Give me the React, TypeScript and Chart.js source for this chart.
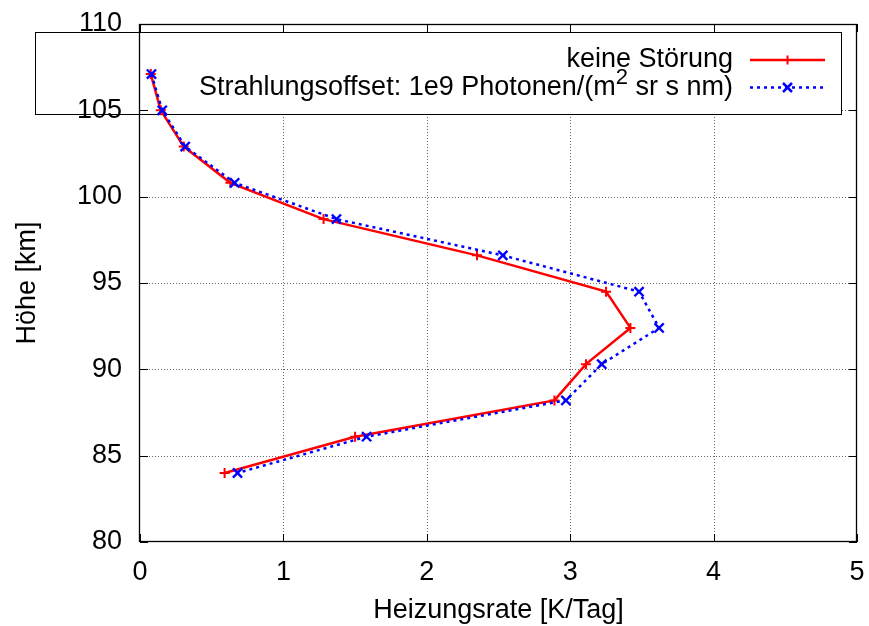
import React, { useEffect, useRef } from "react";
import { Chart, registerables } from "chart.js";

Chart.register(...registerables);

const FONT = '"Liberation Sans", Arial, Helvetica, sans-serif';

// Altitude levels [km]
const heights = [107.1, 105.0, 102.9, 100.8, 98.7, 96.6, 94.5, 92.4, 90.3, 88.2, 86.1, 84.0];
// Heating rate without disturbance [K/Tag]
const rateUndisturbed = [0.075, 0.145, 0.305, 0.63, 1.28, 2.35, 3.25, 3.42, 3.11, 2.89, 1.5, 0.59];
// Heating rate with radiation offset [K/Tag]
const rateOffset = [0.08, 0.155, 0.315, 0.66, 1.37, 2.53, 3.48, 3.62, 3.22, 2.97, 1.58, 0.68];

const xTicks = [0, 1, 2, 3, 4, 5];
const yTicks = [80, 85, 90, 95, 100, 105, 110];

const seriesLabels = ["keine Störung", "Strahlungsoffset: 1e9 Photonen/(m", "2", " sr s nm)"];
const xTitle = "Heizungsrate [K/Tag]";
const yTitle = "Höhe [km]";

const RED = "#ff0000";
const BLUE = "#0000ff";

function drawPlus(ctx: CanvasRenderingContext2D, x: number, y: number, r: number) {
  ctx.beginPath();
  ctx.moveTo(x - r, y);
  ctx.lineTo(x + r, y);
  ctx.moveTo(x, y - r);
  ctx.lineTo(x, y + r);
  ctx.stroke();
}
function drawX(ctx: CanvasRenderingContext2D, x: number, y: number, r: number) {
  ctx.beginPath();
  ctx.moveTo(x - r, y - r);
  ctx.lineTo(x + r, y + r);
  ctx.moveTo(x - r, y + r);
  ctx.lineTo(x + r, y - r);
  ctx.stroke();
}

function zeroPadding(s: any) {
  s.paddingTop = 0;
  s.paddingBottom = 0;
  s.paddingLeft = 0;
  s.paddingRight = 0;
}

export default function App() {
  const ref = useRef<HTMLCanvasElement>(null);

  useEffect(() => {
    const canvas = ref.current;
    if (!canvas) return;

    const gnuplotPlugin = {
      id: "gnuplotLook",
      beforeDraw(chart: any) {
        const { ctx, chartArea: a, scales } = chart;
        ctx.save();
        ctx.fillStyle = "#ffffff";
        ctx.fillRect(0, 0, chart.width, chart.height);

        // dotted grid
        ctx.strokeStyle = "rgba(0,0,0,0.6)";
        ctx.lineWidth = 1;
        ctx.setLineDash([1, 2]);
        ctx.beginPath();
        for (const v of xTicks) {
          if (v <= scales.x.min || v >= scales.x.max) continue;
          const x = Math.round(scales.x.getPixelForValue(v)) + 0.5;
          ctx.moveTo(x, a.top);
          ctx.lineTo(x, a.bottom);
        }
        for (const v of yTicks) {
          if (v <= scales.y.min || v >= scales.y.max) continue;
          const y = Math.round(scales.y.getPixelForValue(v)) + 0.5;
          ctx.moveTo(a.left, y);
          ctx.lineTo(a.right, y);
        }
        ctx.stroke();
        ctx.setLineDash([]);

        // legend box
        const bx = 35, by = 32, bw = 807, bh = 83;
        ctx.fillStyle = "#ffffff";
        ctx.fillRect(bx, by, bw, bh);
        ctx.strokeStyle = "#000000";
        ctx.lineWidth = 1;
        ctx.strokeRect(bx + 0.5, by + 0.5, bw - 1, bh - 1);

        // legend text
        const textRight = 733;
        const y1 = 60, y2 = 87.5;
        ctx.fillStyle = "#000000";
        ctx.font = `27px ${FONT}`;
        ctx.textBaseline = "middle";
        ctx.textAlign = "right";
        ctx.fillText(seriesLabels[0], textRight, y1);

        ctx.textAlign = "left";
        const w3 = ctx.measureText(seriesLabels[3]).width;
        const w1 = ctx.measureText(seriesLabels[1]).width;
        ctx.font = `22px ${FONT}`;
        const w2 = ctx.measureText(seriesLabels[2]).width;
        ctx.font = `27px ${FONT}`;
        ctx.fillText(seriesLabels[3], textRight - w3, y2);
        ctx.fillText(seriesLabels[1], textRight - w3 - w2 - w1, y2);
        ctx.font = `22px ${FONT}`;
        ctx.fillText(seriesLabels[2], textRight - w3 - w2, y2 - 10);

        // legend samples
        const sx0 = 750, sx1 = 825, sm = 787.5;
        ctx.strokeStyle = RED;
        ctx.lineWidth = 2.5;
        ctx.beginPath();
        ctx.moveTo(sx0, y1);
        ctx.lineTo(sx1, y1);
        ctx.stroke();
        ctx.lineWidth = 2;
        drawPlus(ctx, sm, y1, 4.5);

        ctx.strokeStyle = BLUE;
        ctx.lineWidth = 2.5;
        ctx.setLineDash([3, 4]);
        ctx.beginPath();
        ctx.moveTo(sx0, y2);
        ctx.lineTo(sx1, y2);
        ctx.stroke();
        ctx.setLineDash([]);
        drawX(ctx, sm, y2, 4.5);

        ctx.restore();
      },
      afterDraw(chart: any) {
        const { ctx, chartArea: a, scales } = chart;
        ctx.save();
        // frame
        ctx.strokeStyle = "#000000";
        ctx.lineWidth = 1.3;
        ctx.strokeRect(a.left - 0.5, a.top + 0.5, a.right - a.left, a.bottom - a.top - 1);

        // inward ticks, mirrored
        const tl = 8;
        ctx.lineWidth = 1;
        ctx.beginPath();
        for (const v of xTicks) {
          const x = Math.round(scales.x.getPixelForValue(v)) + 0.5;
          ctx.moveTo(x, a.bottom);
          ctx.lineTo(x, a.bottom - tl);
          ctx.moveTo(x, a.top);
          ctx.lineTo(x, a.top + tl);
        }
        for (const v of yTicks) {
          const y = Math.round(scales.y.getPixelForValue(v)) + 0.5;
          ctx.moveTo(a.left, y);
          ctx.lineTo(a.left + tl, y);
          ctx.moveTo(a.right, y);
          ctx.lineTo(a.right - tl, y);
        }
        ctx.stroke();

        // axis titles
        ctx.fillStyle = "#000000";
        ctx.font = `27px ${FONT}`;
        ctx.textAlign = "center";
        ctx.textBaseline = "alphabetic";
        ctx.fillText(xTitle, (a.left + a.right) / 2, 618);
        ctx.translate(34.5, (a.top + a.bottom) / 2);
        ctx.rotate(-Math.PI / 2);
        ctx.fillText(yTitle, 0, 0);
        ctx.restore();
      },
    };

    const chart = new Chart(canvas, {
      type: "scatter",
      data: {
        datasets: [
          {
            label: seriesLabels[0],
            data: heights.map((h, i) => ({ x: rateUndisturbed[i], y: h })),
            showLine: true,
            borderColor: RED,
            backgroundColor: RED,
            borderWidth: 2.5,
            pointStyle: "cross",
            pointRadius: 5,
            pointBorderWidth: 2,
            pointBorderColor: RED,
            order: 2,
          },
          {
            label: seriesLabels[1] + "²" + seriesLabels[3],
            data: heights.map((h, i) => ({ x: rateOffset[i], y: h })),
            showLine: true,
            borderColor: BLUE,
            backgroundColor: BLUE,
            borderWidth: 2.5,
            borderDash: [3, 4],
            pointStyle: "crossRot",
            pointRadius: 6.5,
            pointBorderWidth: 2.4,
            pointBorderColor: BLUE,
            order: 1,
          },
        ],
      },
      options: {
        responsive: false,
        animation: false,
        events: [],
        layout: { padding: { top: 24, right: 12, left: 0, bottom: 0 } },
        plugins: {
          legend: { display: false },
          tooltip: { enabled: false },
          title: { display: false },
        },
        scales: {
          x: {
            type: "linear",
            min: 0,
            max: 5,
            grid: { display: false, drawTicks: false },
            border: { display: false },
            ticks: {
              stepSize: 1,
              padding: 14,
              color: "#000",
              font: { family: FONT, size: 27 },
              callback: (v: any) => String(v),
            },
            afterFit: (s: any) => {
              s.height = 84;
              zeroPadding(s);
            },
          },
          y: {
            type: "linear",
            min: 80,
            max: 110,
            grid: { display: false, drawTicks: false },
            border: { display: false },
            ticks: {
              stepSize: 5,
              padding: 18,
              color: "#000",
              font: { family: FONT, size: 27 },
              callback: (v: any) => String(v),
            },
            afterFit: (s: any) => {
              s.width = 140;
              zeroPadding(s);
            },
          },
        },
      },
      plugins: [gnuplotPlugin],
    });

    return () => chart.destroy();
  }, []);

  return (
    <div style={{ position: "fixed", left: 0, top: 0, width: 869, height: 626, background: "#fff" }}>
      <canvas ref={ref} width={869} height={626} style={{ display: "block" }} />
    </div>
  );
}
